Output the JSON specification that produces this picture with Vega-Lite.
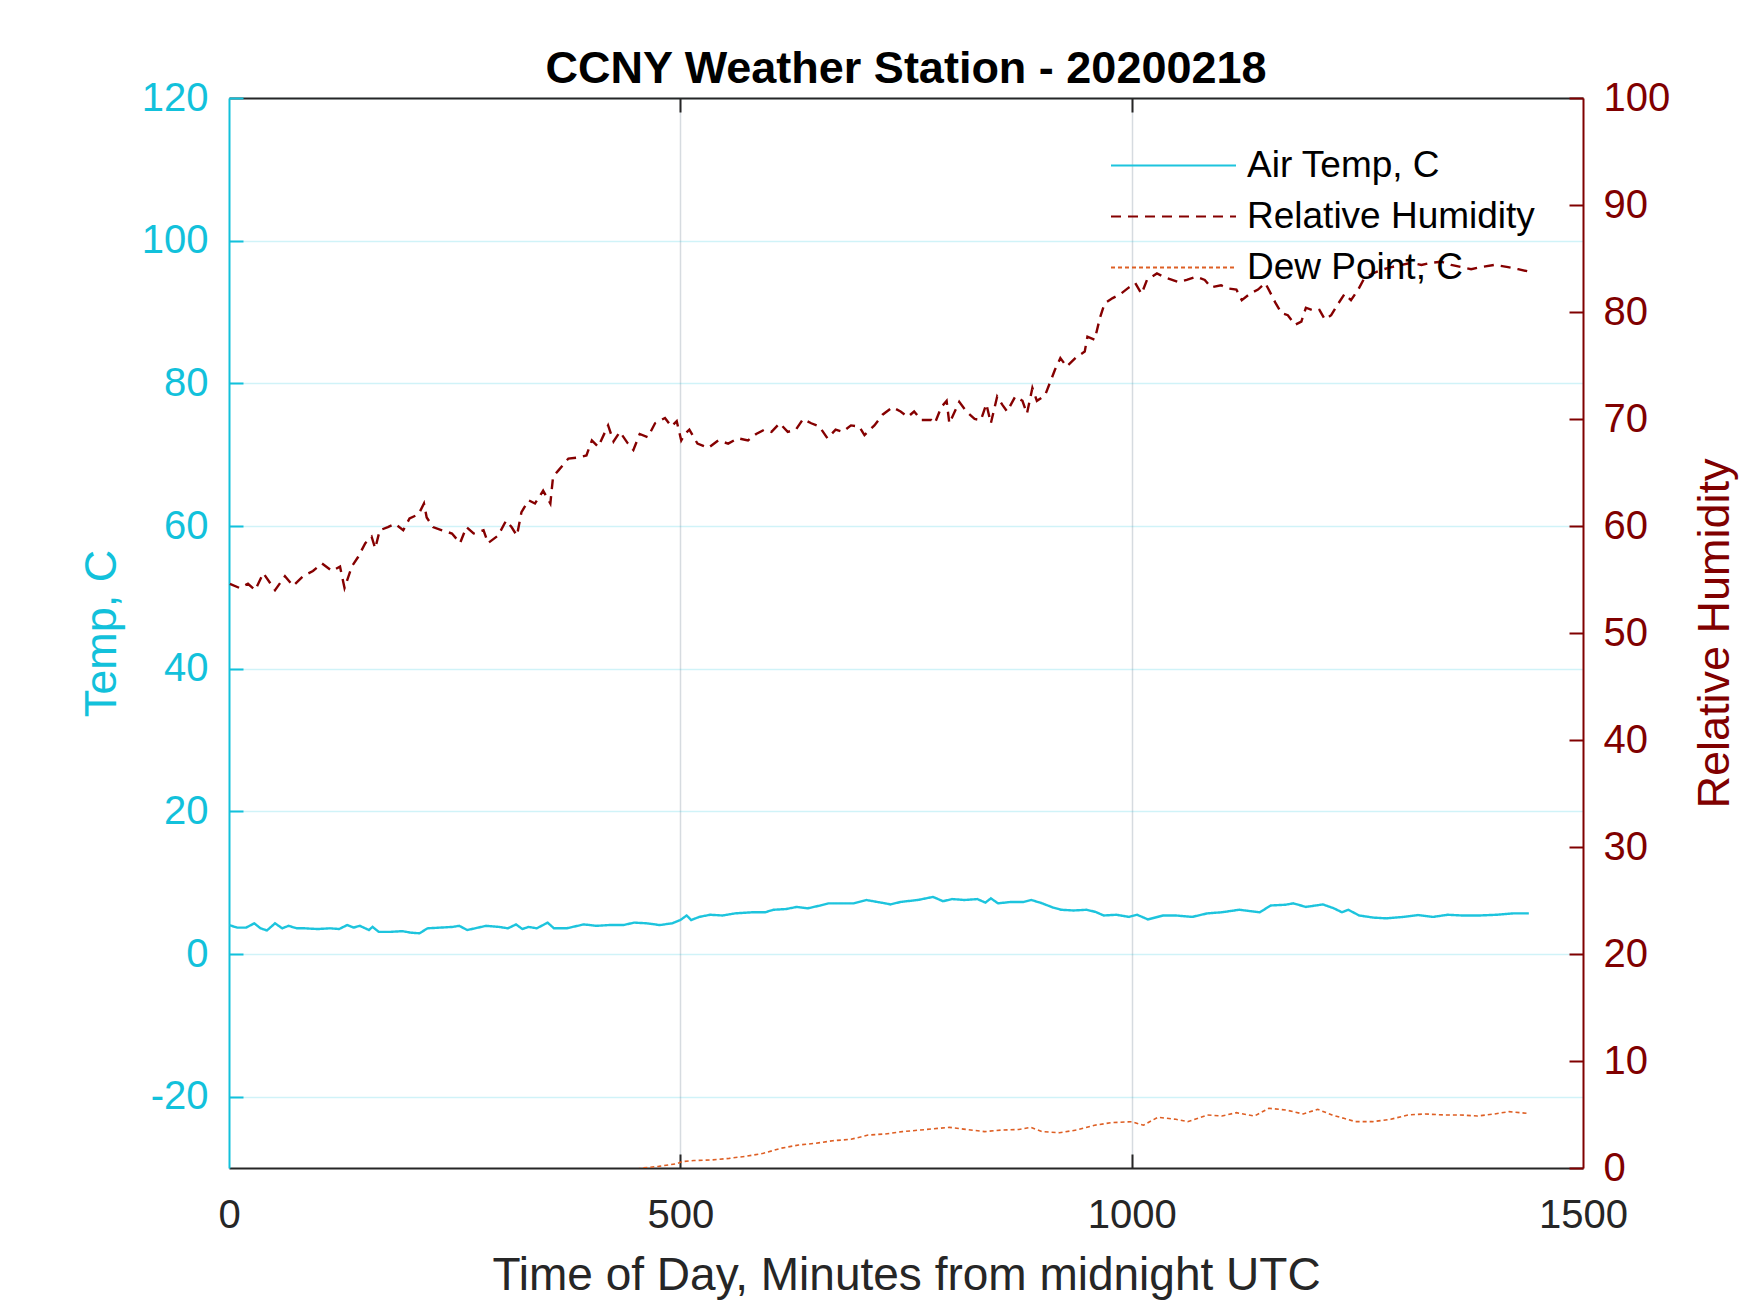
{
  "$schema": "https://vega.github.io/schema/vega-lite/v6.json",
  "width": 1354,
  "height": 1070,
  "autosize": {"type": "none"},
  "padding": {"left": 229, "top": 98, "right": 167, "bottom": 145},
  "background": "white",
  "config": {
    "view": {"stroke": null},
    "font": "Liberation Sans",
    "axis": {"labelFont": "Liberation Sans", "titleFont": "Liberation Sans", "labelFontSize": 40, "titleFontSize": 45, "titleFontWeight": "normal"},
    "legend": {"orient": "none", "direction": "vertical", "symbolType": "stroke", "symbolSize": 15625, "symbolStrokeWidth": 2, "labelFontSize": 37, "labelFont": "Liberation Sans", "labelColor": "#000000", "labelOffset": 10, "labelLimit": 600, "clipHeight": 45, "rowPadding": 6, "padding": 0}
  },
  "title": {"text": "CCNY Weather Station - 20200218", "anchor": "middle", "frame": "group", "fontSize": 45, "font": "Liberation Sans", "fontWeight": "bold", "color": "#000000", "baseline": "alphabetic", "offset": -50},
  "datasets": {
    "temp": [
      {"minute":0,"value":4.06,"series":"Air Temp, C"},{"minute":9,"value":3.7,"series":"Air Temp, C"},{"minute":19,"value":3.7,"series":"Air Temp, C"},{"minute":28,"value":4.3,"series":"Air Temp, C"},{"minute":35,"value":3.6,"series":"Air Temp, C"},{"minute":42,"value":3.3,"series":"Air Temp, C"},{"minute":51,"value":4.3,"series":"Air Temp, C"},{"minute":59,"value":3.6,"series":"Air Temp, C"},{"minute":66,"value":3.95,"series":"Air Temp, C"},{"minute":75,"value":3.6,"series":"Air Temp, C"},{"minute":84,"value":3.6,"series":"Air Temp, C"},{"minute":98,"value":3.5,"series":"Air Temp, C"},{"minute":112,"value":3.6,"series":"Air Temp, C"},{"minute":122,"value":3.5,"series":"Air Temp, C"},{"minute":131,"value":4.06,"series":"Air Temp, C"},{"minute":138,"value":3.7,"series":"Air Temp, C"},{"minute":145,"value":3.95,"series":"Air Temp, C"},{"minute":155,"value":3.36,"series":"Air Temp, C"},{"minute":159,"value":3.8,"series":"Air Temp, C"},{"minute":166,"value":3.1,"series":"Air Temp, C"},{"minute":178,"value":3.1,"series":"Air Temp, C"},{"minute":192,"value":3.2,"series":"Air Temp, C"},{"minute":201,"value":3.0,"series":"Air Temp, C"},{"minute":211,"value":2.9,"series":"Air Temp, C"},{"minute":220,"value":3.6,"series":"Air Temp, C"},{"minute":234,"value":3.7,"series":"Air Temp, C"},{"minute":248,"value":3.8,"series":"Air Temp, C"},{"minute":255,"value":3.95,"series":"Air Temp, C"},{"minute":264,"value":3.36,"series":"Air Temp, C"},{"minute":276,"value":3.7,"series":"Air Temp, C"},{"minute":285,"value":3.95,"series":"Air Temp, C"},{"minute":299,"value":3.8,"series":"Air Temp, C"},{"minute":309,"value":3.6,"series":"Air Temp, C"},{"minute":318,"value":4.15,"series":"Air Temp, C"},{"minute":325,"value":3.5,"series":"Air Temp, C"},{"minute":332,"value":3.8,"series":"Air Temp, C"},{"minute":341,"value":3.6,"series":"Air Temp, C"},{"minute":353,"value":4.4,"series":"Air Temp, C"},{"minute":360,"value":3.6,"series":"Air Temp, C"},{"minute":374,"value":3.6,"series":"Air Temp, C"},{"minute":393,"value":4.15,"series":"Air Temp, C"},{"minute":407,"value":3.95,"series":"Air Temp, C"},{"minute":421,"value":4.06,"series":"Air Temp, C"},{"minute":437,"value":4.06,"series":"Air Temp, C"},{"minute":449,"value":4.4,"series":"Air Temp, C"},{"minute":463,"value":4.3,"series":"Air Temp, C"},{"minute":477,"value":4.06,"series":"Air Temp, C"},{"minute":491,"value":4.3,"series":"Air Temp, C"},{"minute":500,"value":4.76,"series":"Air Temp, C"},{"minute":507,"value":5.4,"series":"Air Temp, C"},{"minute":512,"value":4.76,"series":"Air Temp, C"},{"minute":521,"value":5.2,"series":"Air Temp, C"},{"minute":533,"value":5.5,"series":"Air Temp, C"},{"minute":547,"value":5.4,"series":"Air Temp, C"},{"minute":561,"value":5.7,"series":"Air Temp, C"},{"minute":580,"value":5.85,"series":"Air Temp, C"},{"minute":594,"value":5.85,"series":"Air Temp, C"},{"minute":603,"value":6.2,"series":"Air Temp, C"},{"minute":617,"value":6.3,"series":"Air Temp, C"},{"minute":629,"value":6.6,"series":"Air Temp, C"},{"minute":641,"value":6.4,"series":"Air Temp, C"},{"minute":655,"value":6.8,"series":"Air Temp, C"},{"minute":664,"value":7.1,"series":"Air Temp, C"},{"minute":678,"value":7.1,"series":"Air Temp, C"},{"minute":692,"value":7.1,"series":"Air Temp, C"},{"minute":706,"value":7.57,"series":"Air Temp, C"},{"minute":718,"value":7.3,"series":"Air Temp, C"},{"minute":727,"value":7.1,"series":"Air Temp, C"},{"minute":733,"value":6.95,"series":"Air Temp, C"},{"minute":744,"value":7.3,"series":"Air Temp, C"},{"minute":763,"value":7.57,"series":"Air Temp, C"},{"minute":780,"value":8.0,"series":"Air Temp, C"},{"minute":791,"value":7.4,"series":"Air Temp, C"},{"minute":801,"value":7.7,"series":"Air Temp, C"},{"minute":815,"value":7.57,"series":"Air Temp, C"},{"minute":829,"value":7.7,"series":"Air Temp, C"},{"minute":838,"value":7.2,"series":"Air Temp, C"},{"minute":844,"value":7.8,"series":"Air Temp, C"},{"minute":852,"value":7.1,"series":"Air Temp, C"},{"minute":866,"value":7.3,"series":"Air Temp, C"},{"minute":880,"value":7.3,"series":"Air Temp, C"},{"minute":889,"value":7.57,"series":"Air Temp, C"},{"minute":901,"value":7.1,"series":"Air Temp, C"},{"minute":913,"value":6.5,"series":"Air Temp, C"},{"minute":922,"value":6.2,"series":"Air Temp, C"},{"minute":936,"value":6.1,"series":"Air Temp, C"},{"minute":950,"value":6.2,"series":"Air Temp, C"},{"minute":960,"value":5.9,"series":"Air Temp, C"},{"minute":969,"value":5.4,"series":"Air Temp, C"},{"minute":983,"value":5.5,"series":"Air Temp, C"},{"minute":997,"value":5.2,"series":"Air Temp, C"},{"minute":1006,"value":5.5,"series":"Air Temp, C"},{"minute":1018,"value":4.85,"series":"Air Temp, C"},{"minute":1035,"value":5.4,"series":"Air Temp, C"},{"minute":1049,"value":5.4,"series":"Air Temp, C"},{"minute":1067,"value":5.2,"series":"Air Temp, C"},{"minute":1084,"value":5.7,"series":"Air Temp, C"},{"minute":1100,"value":5.85,"series":"Air Temp, C"},{"minute":1119,"value":6.2,"series":"Air Temp, C"},{"minute":1142,"value":5.85,"series":"Air Temp, C"},{"minute":1154,"value":6.8,"series":"Air Temp, C"},{"minute":1170,"value":6.9,"series":"Air Temp, C"},{"minute":1179,"value":7.1,"series":"Air Temp, C"},{"minute":1193,"value":6.6,"series":"Air Temp, C"},{"minute":1212,"value":6.95,"series":"Air Temp, C"},{"minute":1224,"value":6.4,"series":"Air Temp, C"},{"minute":1233,"value":5.85,"series":"Air Temp, C"},{"minute":1240,"value":6.2,"series":"Air Temp, C"},{"minute":1252,"value":5.4,"series":"Air Temp, C"},{"minute":1268,"value":5.1,"series":"Air Temp, C"},{"minute":1282,"value":5.0,"series":"Air Temp, C"},{"minute":1301,"value":5.2,"series":"Air Temp, C"},{"minute":1317,"value":5.46,"series":"Air Temp, C"},{"minute":1334,"value":5.2,"series":"Air Temp, C"},{"minute":1350,"value":5.5,"series":"Air Temp, C"},{"minute":1366,"value":5.4,"series":"Air Temp, C"},{"minute":1385,"value":5.4,"series":"Air Temp, C"},{"minute":1404,"value":5.5,"series":"Air Temp, C"},{"minute":1423,"value":5.7,"series":"Air Temp, C"},{"minute":1440,"value":5.7,"series":"Air Temp, C"}
    ],
    "rh": [
      {"minute":1,"value":54.6,"series":"Relative Humidity"},{"minute":12,"value":54.2,"series":"Relative Humidity"},{"minute":21,"value":54.6,"series":"Relative Humidity"},{"minute":29,"value":54.0,"series":"Relative Humidity"},{"minute":38,"value":55.6,"series":"Relative Humidity"},{"minute":51,"value":54.0,"series":"Relative Humidity"},{"minute":62,"value":55.3,"series":"Relative Humidity"},{"minute":71,"value":54.4,"series":"Relative Humidity"},{"minute":82,"value":55.3,"series":"Relative Humidity"},{"minute":93,"value":55.8,"series":"Relative Humidity"},{"minute":103,"value":56.5,"series":"Relative Humidity"},{"minute":114,"value":55.8,"series":"Relative Humidity"},{"minute":123,"value":56.2,"series":"Relative Humidity"},{"minute":128,"value":54.2,"series":"Relative Humidity"},{"minute":136,"value":56.2,"series":"Relative Humidity"},{"minute":143,"value":57.1,"series":"Relative Humidity"},{"minute":151,"value":58.4,"series":"Relative Humidity"},{"minute":158,"value":59.0,"series":"Relative Humidity"},{"minute":162,"value":57.9,"series":"Relative Humidity"},{"minute":167,"value":59.6,"series":"Relative Humidity"},{"minute":176,"value":59.9,"series":"Relative Humidity"},{"minute":184,"value":60.2,"series":"Relative Humidity"},{"minute":193,"value":59.6,"series":"Relative Humidity"},{"minute":200,"value":60.7,"series":"Relative Humidity"},{"minute":210,"value":61.1,"series":"Relative Humidity"},{"minute":216,"value":62.1,"series":"Relative Humidity"},{"minute":219,"value":60.8,"series":"Relative Humidity"},{"minute":226,"value":59.9,"series":"Relative Humidity"},{"minute":236,"value":59.6,"series":"Relative Humidity"},{"minute":247,"value":59.3,"series":"Relative Humidity"},{"minute":256,"value":58.4,"series":"Relative Humidity"},{"minute":263,"value":59.9,"series":"Relative Humidity"},{"minute":271,"value":59.3,"series":"Relative Humidity"},{"minute":282,"value":59.6,"series":"Relative Humidity"},{"minute":287,"value":58.4,"series":"Relative Humidity"},{"minute":298,"value":59.1,"series":"Relative Humidity"},{"minute":307,"value":60.5,"series":"Relative Humidity"},{"minute":313,"value":59.9,"series":"Relative Humidity"},{"minute":319,"value":59.1,"series":"Relative Humidity"},{"minute":324,"value":61.3,"series":"Relative Humidity"},{"minute":332,"value":62.4,"series":"Relative Humidity"},{"minute":339,"value":62.1,"series":"Relative Humidity"},{"minute":348,"value":63.3,"series":"Relative Humidity"},{"minute":356,"value":62.1,"series":"Relative Humidity"},{"minute":359,"value":64.6,"series":"Relative Humidity"},{"minute":365,"value":65.2,"series":"Relative Humidity"},{"minute":376,"value":66.3,"series":"Relative Humidity"},{"minute":387,"value":66.4,"series":"Relative Humidity"},{"minute":396,"value":66.6,"series":"Relative Humidity"},{"minute":402,"value":68.0,"series":"Relative Humidity"},{"minute":409,"value":67.4,"series":"Relative Humidity"},{"minute":420,"value":69.4,"series":"Relative Humidity"},{"minute":426,"value":67.9,"series":"Relative Humidity"},{"minute":433,"value":68.8,"series":"Relative Humidity"},{"minute":442,"value":67.7,"series":"Relative Humidity"},{"minute":448,"value":67.1,"series":"Relative Humidity"},{"minute":455,"value":68.6,"series":"Relative Humidity"},{"minute":464,"value":68.3,"series":"Relative Humidity"},{"minute":472,"value":69.6,"series":"Relative Humidity"},{"minute":483,"value":70.1,"series":"Relative Humidity"},{"minute":490,"value":69.3,"series":"Relative Humidity"},{"minute":496,"value":69.8,"series":"Relative Humidity"},{"minute":501,"value":68.0,"series":"Relative Humidity"},{"minute":505,"value":68.6,"series":"Relative Humidity"},{"minute":510,"value":69.0,"series":"Relative Humidity"},{"minute":519,"value":67.7,"series":"Relative Humidity"},{"minute":531,"value":67.3,"series":"Relative Humidity"},{"minute":542,"value":68.0,"series":"Relative Humidity"},{"minute":553,"value":67.7,"series":"Relative Humidity"},{"minute":564,"value":68.2,"series":"Relative Humidity"},{"minute":575,"value":68.0,"series":"Relative Humidity"},{"minute":584,"value":68.6,"series":"Relative Humidity"},{"minute":593,"value":69.0,"series":"Relative Humidity"},{"minute":601,"value":68.8,"series":"Relative Humidity"},{"minute":610,"value":69.6,"series":"Relative Humidity"},{"minute":619,"value":68.8,"series":"Relative Humidity"},{"minute":628,"value":69.0,"series":"Relative Humidity"},{"minute":636,"value":70.0,"series":"Relative Humidity"},{"minute":645,"value":69.6,"series":"Relative Humidity"},{"minute":654,"value":69.3,"series":"Relative Humidity"},{"minute":663,"value":68.2,"series":"Relative Humidity"},{"minute":672,"value":69.0,"series":"Relative Humidity"},{"minute":680,"value":68.8,"series":"Relative Humidity"},{"minute":689,"value":69.4,"series":"Relative Humidity"},{"minute":698,"value":69.3,"series":"Relative Humidity"},{"minute":704,"value":68.5,"series":"Relative Humidity"},{"minute":715,"value":69.4,"series":"Relative Humidity"},{"minute":724,"value":70.4,"series":"Relative Humidity"},{"minute":735,"value":71.1,"series":"Relative Humidity"},{"minute":744,"value":70.7,"series":"Relative Humidity"},{"minute":752,"value":70.2,"series":"Relative Humidity"},{"minute":759,"value":70.7,"series":"Relative Humidity"},{"minute":767,"value":69.9,"series":"Relative Humidity"},{"minute":778,"value":69.9,"series":"Relative Humidity"},{"minute":782,"value":69.6,"series":"Relative Humidity"},{"minute":789,"value":71.1,"series":"Relative Humidity"},{"minute":795,"value":71.7,"series":"Relative Humidity"},{"minute":798,"value":69.6,"series":"Relative Humidity"},{"minute":809,"value":71.6,"series":"Relative Humidity"},{"minute":817,"value":70.7,"series":"Relative Humidity"},{"minute":826,"value":70.0,"series":"Relative Humidity"},{"minute":833,"value":69.9,"series":"Relative Humidity"},{"minute":839,"value":71.4,"series":"Relative Humidity"},{"minute":844,"value":69.6,"series":"Relative Humidity"},{"minute":851,"value":72.1,"series":"Relative Humidity"},{"minute":857,"value":71.3,"series":"Relative Humidity"},{"minute":862,"value":70.7,"series":"Relative Humidity"},{"minute":871,"value":72.1,"series":"Relative Humidity"},{"minute":879,"value":71.7,"series":"Relative Humidity"},{"minute":884,"value":70.5,"series":"Relative Humidity"},{"minute":890,"value":72.9,"series":"Relative Humidity"},{"minute":895,"value":71.7,"series":"Relative Humidity"},{"minute":904,"value":72.2,"series":"Relative Humidity"},{"minute":910,"value":73.5,"series":"Relative Humidity"},{"minute":915,"value":74.6,"series":"Relative Humidity"},{"minute":921,"value":75.7,"series":"Relative Humidity"},{"minute":928,"value":74.9,"series":"Relative Humidity"},{"minute":939,"value":75.8,"series":"Relative Humidity"},{"minute":948,"value":76.3,"series":"Relative Humidity"},{"minute":951,"value":77.7,"series":"Relative Humidity"},{"minute":959,"value":77.4,"series":"Relative Humidity"},{"minute":965,"value":79.5,"series":"Relative Humidity"},{"minute":970,"value":80.8,"series":"Relative Humidity"},{"minute":979,"value":81.3,"series":"Relative Humidity"},{"minute":988,"value":81.7,"series":"Relative Humidity"},{"minute":997,"value":82.3,"series":"Relative Humidity"},{"minute":1004,"value":82.7,"series":"Relative Humidity"},{"minute":1011,"value":81.7,"series":"Relative Humidity"},{"minute":1017,"value":83.0,"series":"Relative Humidity"},{"minute":1028,"value":83.6,"series":"Relative Humidity"},{"minute":1038,"value":83.2,"series":"Relative Humidity"},{"minute":1052,"value":82.8,"series":"Relative Humidity"},{"minute":1061,"value":83.0,"series":"Relative Humidity"},{"minute":1071,"value":83.3,"series":"Relative Humidity"},{"minute":1081,"value":83.0,"series":"Relative Humidity"},{"minute":1088,"value":82.3,"series":"Relative Humidity"},{"minute":1099,"value":82.5,"series":"Relative Humidity"},{"minute":1107,"value":82.2,"series":"Relative Humidity"},{"minute":1116,"value":82.1,"series":"Relative Humidity"},{"minute":1122,"value":81.1,"series":"Relative Humidity"},{"minute":1131,"value":81.7,"series":"Relative Humidity"},{"minute":1140,"value":82.1,"series":"Relative Humidity"},{"minute":1148,"value":82.7,"series":"Relative Humidity"},{"minute":1153,"value":81.9,"series":"Relative Humidity"},{"minute":1159,"value":80.9,"series":"Relative Humidity"},{"minute":1166,"value":79.9,"series":"Relative Humidity"},{"minute":1173,"value":79.7,"series":"Relative Humidity"},{"minute":1181,"value":78.8,"series":"Relative Humidity"},{"minute":1188,"value":79.1,"series":"Relative Humidity"},{"minute":1193,"value":80.4,"series":"Relative Humidity"},{"minute":1203,"value":80.1,"series":"Relative Humidity"},{"minute":1208,"value":80.2,"series":"Relative Humidity"},{"minute":1214,"value":79.3,"series":"Relative Humidity"},{"minute":1221,"value":79.7,"series":"Relative Humidity"},{"minute":1229,"value":80.8,"series":"Relative Humidity"},{"minute":1236,"value":81.7,"series":"Relative Humidity"},{"minute":1243,"value":81.1,"series":"Relative Humidity"},{"minute":1251,"value":82.1,"series":"Relative Humidity"},{"minute":1258,"value":83.2,"series":"Relative Humidity"},{"minute":1267,"value":83.6,"series":"Relative Humidity"},{"minute":1279,"value":84.0,"series":"Relative Humidity"},{"minute":1288,"value":84.2,"series":"Relative Humidity"},{"minute":1299,"value":84.4,"series":"Relative Humidity"},{"minute":1310,"value":84.6,"series":"Relative Humidity"},{"minute":1321,"value":84.4,"series":"Relative Humidity"},{"minute":1332,"value":84.6,"series":"Relative Humidity"},{"minute":1343,"value":84.7,"series":"Relative Humidity"},{"minute":1354,"value":84.4,"series":"Relative Humidity"},{"minute":1365,"value":84.2,"series":"Relative Humidity"},{"minute":1376,"value":84.0,"series":"Relative Humidity"},{"minute":1387,"value":84.2,"series":"Relative Humidity"},{"minute":1402,"value":84.4,"series":"Relative Humidity"},{"minute":1417,"value":84.2,"series":"Relative Humidity"},{"minute":1428,"value":84.0,"series":"Relative Humidity"},{"minute":1439,"value":83.8,"series":"Relative Humidity"}
    ],
    "dp": [
      {"minute":444,"value":-0.3,"series":"Dew Point, C"},{"minute":457,"value":0.0,"series":"Dew Point, C"},{"minute":476,"value":0.15,"series":"Dew Point, C"},{"minute":496,"value":0.4,"series":"Dew Point, C"},{"minute":502,"value":0.6,"series":"Dew Point, C"},{"minute":515,"value":0.7,"series":"Dew Point, C"},{"minute":534,"value":0.75,"series":"Dew Point, C"},{"minute":554,"value":0.9,"series":"Dew Point, C"},{"minute":573,"value":1.1,"series":"Dew Point, C"},{"minute":592,"value":1.37,"series":"Dew Point, C"},{"minute":611,"value":1.84,"series":"Dew Point, C"},{"minute":631,"value":2.15,"series":"Dew Point, C"},{"minute":650,"value":2.31,"series":"Dew Point, C"},{"minute":669,"value":2.55,"series":"Dew Point, C"},{"minute":689,"value":2.68,"series":"Dew Point, C"},{"minute":708,"value":3.08,"series":"Dew Point, C"},{"minute":727,"value":3.18,"series":"Dew Point, C"},{"minute":746,"value":3.4,"series":"Dew Point, C"},{"minute":766,"value":3.55,"series":"Dew Point, C"},{"minute":785,"value":3.7,"series":"Dew Point, C"},{"minute":798,"value":3.8,"series":"Dew Point, C"},{"minute":817,"value":3.6,"series":"Dew Point, C"},{"minute":837,"value":3.4,"series":"Dew Point, C"},{"minute":856,"value":3.55,"series":"Dew Point, C"},{"minute":875,"value":3.6,"series":"Dew Point, C"},{"minute":888,"value":3.8,"series":"Dew Point, C"},{"minute":901,"value":3.4,"series":"Dew Point, C"},{"minute":920,"value":3.3,"series":"Dew Point, C"},{"minute":939,"value":3.55,"series":"Dew Point, C"},{"minute":959,"value":4.0,"series":"Dew Point, C"},{"minute":978,"value":4.24,"series":"Dew Point, C"},{"minute":1000,"value":4.33,"series":"Dew Point, C"},{"minute":1013,"value":4.0,"series":"Dew Point, C"},{"minute":1029,"value":4.74,"series":"Dew Point, C"},{"minute":1049,"value":4.55,"series":"Dew Point, C"},{"minute":1062,"value":4.33,"series":"Dew Point, C"},{"minute":1084,"value":4.96,"series":"Dew Point, C"},{"minute":1100,"value":4.86,"series":"Dew Point, C"},{"minute":1116,"value":5.17,"series":"Dew Point, C"},{"minute":1136,"value":4.86,"series":"Dew Point, C"},{"minute":1152,"value":5.58,"series":"Dew Point, C"},{"minute":1171,"value":5.42,"series":"Dew Point, C"},{"minute":1190,"value":5.05,"series":"Dew Point, C"},{"minute":1206,"value":5.48,"series":"Dew Point, C"},{"minute":1222,"value":4.96,"series":"Dew Point, C"},{"minute":1235,"value":4.64,"series":"Dew Point, C"},{"minute":1248,"value":4.33,"series":"Dew Point, C"},{"minute":1267,"value":4.33,"series":"Dew Point, C"},{"minute":1287,"value":4.55,"series":"Dew Point, C"},{"minute":1306,"value":4.96,"series":"Dew Point, C"},{"minute":1325,"value":5.05,"series":"Dew Point, C"},{"minute":1345,"value":4.96,"series":"Dew Point, C"},{"minute":1364,"value":4.96,"series":"Dew Point, C"},{"minute":1383,"value":4.86,"series":"Dew Point, C"},{"minute":1402,"value":5.05,"series":"Dew Point, C"},{"minute":1418,"value":5.27,"series":"Dew Point, C"},{"minute":1438,"value":5.11,"series":"Dew Point, C"}
    ]
  },
  "layer": [
    {
      "data": {"name": "temp"},
      "mark": {"type": "line", "strokeWidth": 2.4, "clip": true},
      "encoding": {
        "x": {"field": "minute", "type": "quantitative", "scale": {"domain": [0, 1500], "nice": false, "zero": false},
          "axis": {"orient": "bottom", "values": [0, 500, 1000, 1500], "format": "d", "title": "Time of Day, Minutes from midnight UTC", "titleColor": "#262626", "titleFontSize": 46, "titlePadding": 18, "labelColor": "#262626", "labelFontSize": 40, "labelPadding": 41, "labelFlush": false, "labelOverlap": false, "domainColor": "#262626", "domainWidth": 2, "tickColor": "#262626", "tickSize": -14, "tickWidth": 2, "tickOpacity": {"condition": {"test": "datum.value == 0 || datum.value == 1500", "value": 0}, "value": 1}, "grid": true, "gridColor": "#D6DBE0", "gridWidth": 1.5, "gridOpacity": {"condition": {"test": "datum.value == 0 || datum.value == 1500", "value": 0}, "value": 1}}},
        "y": {"field": "value", "type": "quantitative", "scale": {"domain": [-30, 120], "nice": false, "zero": false},
          "axis": {"orient": "left", "values": [-20, 0, 20, 40, 60, 80, 100, 120], "labelExpr": "'' + datum.value", "title": "Temp, C", "titleColor": "#12C1DB", "titleFontSize": 45, "titlePadding": 17, "labelColor": "#12C1DB", "labelFontSize": 40, "labelPadding": 35, "labelOverlap": false, "domainColor": "#12C1DB", "domainWidth": 2, "tickColor": "#12C1DB", "tickSize": -14, "tickWidth": 2, "grid": true, "gridColor": "#12C1DB", "gridOpacity": 0.2, "gridWidth": 1.5}},
        "color": {"field": "series", "type": "nominal", "scale": {"domain": ["Air Temp, C", "Relative Humidity", "Dew Point, C"], "range": ["#1DC4DD", "#850000", "#DE5F24"]},
          "legend": {"title": null, "orient": "none", "legendX": 881, "legendY": 45}},
        "strokeDash": {"field": "series", "type": "nominal", "scale": {"domain": ["Air Temp, C", "Relative Humidity", "Dew Point, C"], "range": [[1, 0], [10, 7], [4, 3]]},
          "legend": {"title": null, "orient": "none", "legendX": 881, "legendY": 45}}
      }
    },
    {
      "encoding": {
        "x": {"field": "minute", "type": "quantitative", "scale": {"domain": [0, 1500], "nice": false, "zero": false},
          "axis": {"orient": "top", "values": [0, 500, 1000, 1500], "labels": false, "title": null, "grid": false, "domainColor": "#262626", "domainWidth": 2, "tickColor": "#262626", "tickSize": -14, "tickWidth": 2, "tickOpacity": {"condition": {"test": "datum.value == 0 || datum.value == 1500", "value": 0}, "value": 1}}},
        "y": {"field": "value", "type": "quantitative", "scale": {"domain": [0, 100], "nice": false, "zero": false},
          "axis": {"orient": "right", "values": [0, 10, 20, 30, 40, 50, 60, 70, 80, 90, 100], "title": "Relative Humidity", "titleAngle": 270, "titleBaseline": "top", "titleColor": "#800000", "titleFontSize": 45, "titlePadding": 23, "labelColor": "#800000", "labelFontSize": 40, "labelPadding": 34, "labelOverlap": false, "domainColor": "#800000", "domainWidth": 2, "tickColor": "#800000", "tickSize": -14, "tickWidth": 2, "grid": false}}
      },
      "layer": [
        {
          "data": {"name": "rh"},
          "mark": {"type": "line", "strokeWidth": 2.4, "clip": true},
          "encoding": {
            "color": {"field": "series", "type": "nominal", "scale": {"domain": ["Air Temp, C", "Relative Humidity", "Dew Point, C"], "range": ["#1DC4DD", "#850000", "#DE5F24"]}},
            "strokeDash": {"field": "series", "type": "nominal", "scale": {"domain": ["Air Temp, C", "Relative Humidity", "Dew Point, C"], "range": [[1, 0], [10, 7], [4, 3]]}}
          }
        },
        {
          "data": {"name": "dp"},
          "mark": {"type": "line", "strokeWidth": 1.6, "clip": true},
          "encoding": {
            "color": {"field": "series", "type": "nominal", "scale": {"domain": ["Air Temp, C", "Relative Humidity", "Dew Point, C"], "range": ["#1DC4DD", "#850000", "#DE5F24"]}},
            "strokeDash": {"field": "series", "type": "nominal", "scale": {"domain": ["Air Temp, C", "Relative Humidity", "Dew Point, C"], "range": [[1, 0], [10, 7], [4, 3]]}}
          }
        }
      ]
    }
  ],
  "resolve": {"scale": {"y": "independent"}, "axis": {"x": "independent", "y": "independent"}}
}
